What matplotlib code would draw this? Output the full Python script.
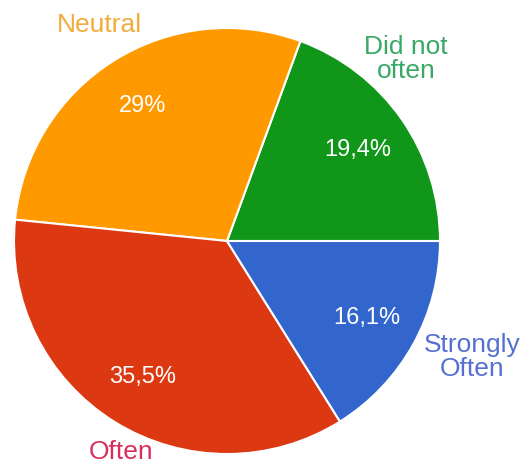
import matplotlib
matplotlib.use('Agg')
import matplotlib.pyplot as plt
import numpy as np

# survey answers, counter-clockwise from 3 o'clock
categories = ['Did not\noften', 'Neutral', 'Often', 'Strongly\nOften']
shares = [19.4, 29.0, 35.5, 16.1]
slice_colors = ['#109618', '#ff9900', '#dc3912', '#3366cc']
label_colors = ['#3aa865', '#f0ac3c', '#d8305e', '#5570d0']

W, H = 520, 474
plt.rcParams['font.family'] = ['Liberation Sans', 'DejaVu Sans']

fig = plt.figure(figsize=(W / 100, H / 100), dpi=100)
ax = fig.add_axes([0, 0, 1, 1])


def fmt(v):
    s = f'{v:.1f}'.rstrip('0').rstrip('.')
    return s.replace('.', ',') + '%'


wedges, texts = ax.pie(shares, colors=slice_colors, startangle=0, counterclock=True,
                       center=(227, H - 241), radius=213, frame=True,
                       wedgeprops=dict(edgecolor='white', linewidth=1.5))
ax.set_xlim(0, W)
ax.set_ylim(0, H)
ax.set_aspect('equal')
ax.axis('off')

# percentages inside each slice
for w, v in zip(wedges, shares):
    mid = np.deg2rad((w.theta1 + w.theta2) / 2)
    r = 0.75 * w.r
    ax.text(w.center[0] + r * np.cos(mid), w.center[1] + r * np.sin(mid), fmt(v),
            color='white', fontsize=17, ha='center', va='center')

# category names outside the pie
label_pos = [(406, 59), (99, 25), (121, 452), (472, 357)]
for name, col, (x, y) in zip(categories, label_colors, label_pos):
    ax.text(x, H - y, name, color=col, fontsize=19, ha='center', va='center',
            linespacing=0.95)

fig.savefig('out.png', dpi=100)
